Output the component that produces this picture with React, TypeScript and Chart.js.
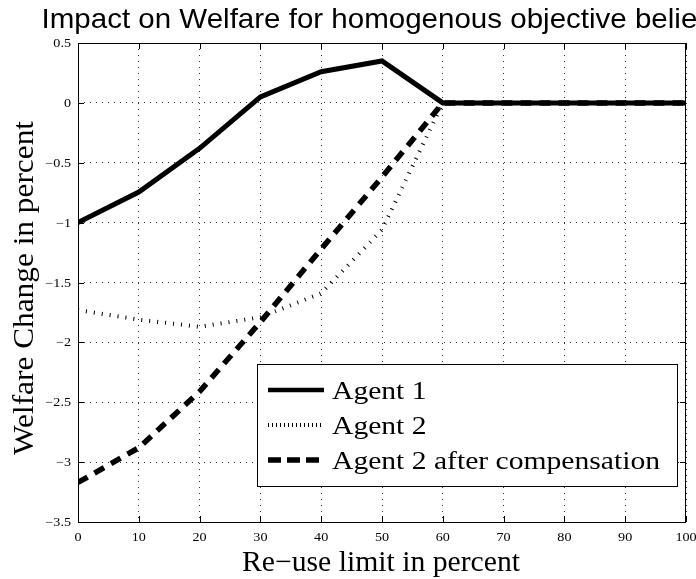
import React, { useEffect, useRef } from "react";
import { Chart, registerables } from "chart.js";

Chart.register(...registerables);

const xValues = [0, 10, 20, 30, 40, 50, 60, 70, 80, 90, 100];
const agent1 = [-1.0, -0.745, -0.38, 0.05, 0.26, 0.35, 0, 0, 0, 0, 0];
const agent2 = [-1.73, -1.81, -1.87, -1.79, -1.59, -1.06, 0, 0, 0, 0, 0];
const agent2Comp = [-3.17, -2.88, -2.41, -1.83, -1.22, -0.62, 0, 0, 0, 0, 0];
const seriesLabels = ["Agent 1", "Agent 2", "Agent 2 after compensation"];
const titleText = "Impact on Welfare for homogenous objective beliefs";
const xTitle = "Re\u2212use limit in percent";
const yTitle = "Welfare Change in percent";

const SERIF = "'Liberation Serif', 'Times New Roman', serif";
const SANS = "'Liberation Sans', Arial, sans-serif";
const TICK_STRETCH = 1.18;

function stretchedText(ctx: any, text: string, x: number, y: number, sx: number, align: "left" | "center" | "right") {
  const w = ctx.measureText(text).width * sx;
  let x0 = x;
  if (align === "center") x0 = x - w / 2;
  else if (align === "right") x0 = x - w;
  ctx.save();
  ctx.translate(x0, y);
  ctx.scale(sx, 1);
  ctx.textAlign = "left";
  ctx.fillText(text, 0, 0);
  ctx.restore();
}

const fmt = (v: number) => String(Number(v.toFixed(2))).replace("-", "\u2212");

const decorPlugin = {
  id: "decor",
  afterDraw(chart: any) {
    const { ctx, chartArea, scales } = chart;
    const { left, right, top, bottom } = chartArea;
    ctx.save();
    // box
    ctx.strokeStyle = "#000";
    ctx.lineWidth = 1;
    ctx.setLineDash([]);
    ctx.strokeRect(Math.round(left) + 0.5, Math.round(top) + 0.5, Math.round(right - left) - 1, Math.round(bottom - top));
    // inward ticks
    const tl = 6;
    ctx.beginPath();
    scales.x.ticks.forEach((t: any) => {
      const px = Math.round(scales.x.getPixelForValue(t.value)) + 0.5;
      ctx.moveTo(px, bottom);
      ctx.lineTo(px, bottom - tl);
      ctx.moveTo(px, top);
      ctx.lineTo(px, top + tl);
    });
    scales.y.ticks.forEach((t: any) => {
      const py = Math.round(scales.y.getPixelForValue(t.value)) + 0.5;
      ctx.moveTo(left, py);
      ctx.lineTo(left + tl, py);
      ctx.moveTo(right, py);
      ctx.lineTo(right - tl, py);
    });
    ctx.stroke();

    // tick labels
    ctx.fillStyle = "#000";
    ctx.font = `12px ${SERIF}`;
    ctx.textBaseline = "alphabetic";
    scales.x.ticks.forEach((t: any) => {
      const px = scales.x.getPixelForValue(t.value);
      stretchedText(ctx, fmt(t.value), px, 541, TICK_STRETCH, "center");
    });
    scales.y.ticks.forEach((t: any) => {
      const py = scales.y.getPixelForValue(t.value);
      stretchedText(ctx, fmt(t.value), left - 7, py + 4, TICK_STRETCH, "right");
    });

    // title
    ctx.font = `28px ${SANS}`;
    const tsx = 239 / ctx.measureText("Impact on Welfare").width;
    stretchedText(ctx, titleText, 41.5, 28, tsx, "left");

    // x title
    ctx.font = `29px ${SERIF}`;
    const xsx = 278 / ctx.measureText(xTitle).width;
    stretchedText(ctx, xTitle, 381, 571, xsx, "center");

    // y title
    ctx.save();
    ctx.translate(33, 288);
    ctx.rotate(-Math.PI / 2);
    ctx.font = `30px ${SERIF}`;
    const ysx = 334 / ctx.measureText(yTitle).width;
    stretchedText(ctx, yTitle, 0, 0, ysx, "center");
    ctx.restore();

    // legend
    const lx = 257, ly = 364, lw = 420, lh = 122;
    ctx.fillStyle = "#fff";
    ctx.fillRect(lx, ly, lw, lh);
    ctx.strokeStyle = "#000";
    ctx.lineWidth = 1;
    ctx.strokeRect(lx + 0.5, ly + 0.5, lw, lh);
    const rows = [390, 425, 460];
    ctx.font = `25px ${SERIF}`;
    const lsx = 328 / ctx.measureText(seriesLabels[2]).width;
    chart.data.datasets.forEach((ds: any, i: number) => {
      const y = rows[i];
      ctx.save();
      ctx.strokeStyle = "#000";
      ctx.lineCap = "butt";
      if (i === 0) {
        ctx.lineWidth = 4.5;
        ctx.setLineDash([]);
      } else if (i === 1) {
        ctx.lineWidth = 4;
        ctx.setLineDash([1, 3]);
      } else {
        ctx.lineWidth = 5.5;
        ctx.setLineDash([13, 6]);
      }
      ctx.beginPath();
      ctx.moveTo(268, y);
      ctx.lineTo(324, y);
      ctx.stroke();
      ctx.restore();
      ctx.fillStyle = "#000";
      ctx.textBaseline = "alphabetic";
      stretchedText(ctx, ds.label, 332, y + 9, lsx, "left");
    });
    ctx.restore();
  },
};

export default function App() {
  const ref = useRef<HTMLCanvasElement | null>(null);
  useEffect(() => {
    document.body.style.margin = "0";
    const canvas = ref.current!;
    const mk = (arr: number[]) => xValues.map((x, i) => ({ x, y: arr[i] }));
    const chart = new Chart(canvas, {
      type: "line",
      data: {
        datasets: [
          {
            label: seriesLabels[0],
            data: mk(agent1),
            borderColor: "#000",
            borderWidth: 5,
            pointRadius: 0,
            borderJoinStyle: "miter",
            tension: 0,
          },
          {
            label: seriesLabels[1],
            data: mk(agent2),
            borderColor: "#000",
            borderWidth: 4,
            borderDash: [1, 7],
            borderCapStyle: "butt",
            pointRadius: 0,
            tension: 0,
          },
          {
            label: seriesLabels[2],
            data: mk(agent2Comp),
            borderColor: "#000",
            borderWidth: 5.5,
            borderDash: [11, 8],
            borderCapStyle: "butt",
            pointRadius: 0,
            tension: 0,
          },
        ],
      },
      options: {
        responsive: false,
        animation: false,
        devicePixelRatio: 1,
        layout: { padding: { left: 0, right: 10, top: 43, bottom: 0 } },
        plugins: {
          legend: { display: false },
          title: { display: false },
          tooltip: { enabled: false },
        },
        scales: {
          x: {
            type: "linear",
            min: 0,
            max: 100,
            afterFit: (s: any) => {
              s.height = 57;
            },
            ticks: {
              stepSize: 10,
              display: false,
              maxRotation: 0,
            },
            grid: {
              color: "#333",
              lineWidth: 1,
              drawTicks: false,
            },
            border: { display: false, dash: [1, 5] },
          },
          y: {
            type: "linear",
            min: -3.5,
            max: 0.5,
            afterFit: (s: any) => {
              s.width = 78;
            },
            ticks: {
              stepSize: 0.5,
              display: false,
            },
            grid: {
              color: "#333",
              lineWidth: 1,
              drawTicks: false,
            },
            border: { display: false, dash: [1, 5] },
          },
        },
      },
      plugins: [decorPlugin],
    });
    return () => chart.destroy();
  }, []);
  return (
    <div style={{ width: 696, height: 579, background: "#fff" }}>
      <canvas ref={ref} width={696} height={579} style={{ display: "block" }} />
    </div>
  );
}
